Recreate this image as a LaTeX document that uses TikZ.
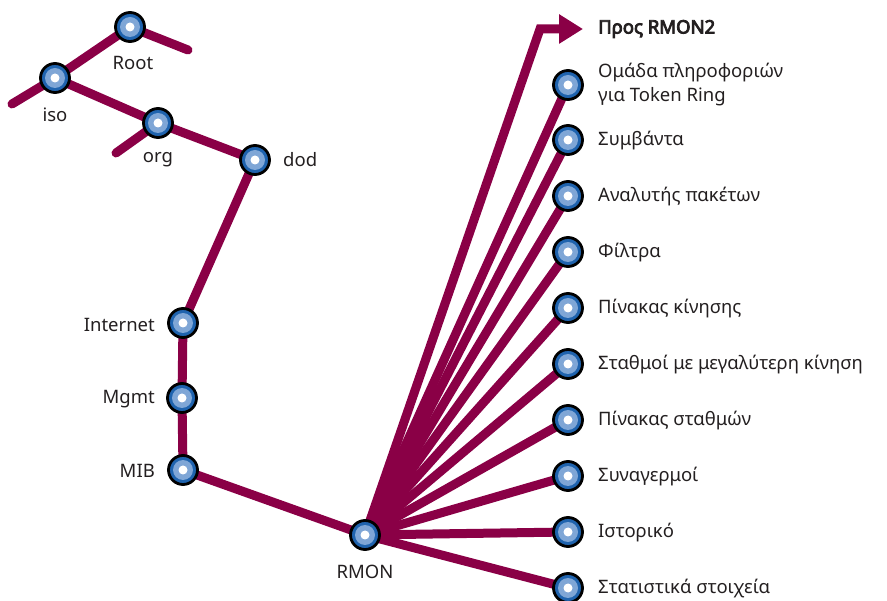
\documentclass[tikz,border=0pt]{standalone}
\usepackage{fontspec}
\setmainfont{Noto Sans}[AutoFakeBold=4.5]
\usetikzlibrary{backgrounds,arrows.meta}
\definecolor{branchc}{HTML}{8A0046}
\definecolor{ringdark}{HTML}{1F63AE}
\definecolor{ringlight}{HTML}{7FA6D6}
\definecolor{ink}{HTML}{231F20}
\tikzset{
  oid/.style={circle, draw=black, line width=2.8pt, fill=ringdark,
    minimum size=29pt, inner sep=0pt,
    path picture={
      \fill[ringlight] (path picture bounding box.center) circle (10pt);
      \fill[white] (path picture bounding box.center) circle (4.5pt);}},
  branch/.style={draw=branchc, line width=9pt, line cap=round},
  lbl/.style={font=\fontsize{18.5}{24}\selectfont, text=ink, inner sep=0pt, align=left},
}
\begin{document}
\begin{tikzpicture}[x=1pt, y=-1pt]
\useasboundingbox (0,0) rectangle (887,601);

% OID tree nodes
\node[oid] (root) at (130,27) {};
\node[oid] (iso) at (55,78) {};
\node[oid] (org) at (158,123) {};
\node[oid] (dod) at (255,160) {};
\node[oid] (internet) at (183,323) {};
\node[oid] (mgmt) at (182,398) {};
\node[oid] (mib) at (183,470) {};
\node[oid] (rmon) at (365,535) {};

% RMON groups
\node[oid] (g1) at (568,85) {};
\node[oid] (g2) at (568,140) {};
\node[oid] (g3) at (568,196) {};
\node[oid] (g4) at (568,252) {};
\node[oid] (g5) at (568,308) {};
\node[oid] (g6) at (568,364) {};
\node[oid] (g7) at (568,420) {};
\node[oid] (g8) at (568,476) {};
\node[oid] (g9) at (568,532) {};
\node[oid] (g10) at (568,588) {};

% loose branch ends
\coordinate (rootstub) at (188,50);
\coordinate (isostub) at (12,104);
\coordinate (orgstub) at (116,153);
\coordinate (bend) at (540,29);
\coordinate (tip) at (583,29);

\begin{scope}[on background layer]
  \draw[branch] (root.center) -- (rootstub);
  \draw[branch] (root.center) -- (iso.center);
  \draw[branch] (iso.center) -- (isostub);
  \draw[branch] (iso.center) -- (org.center);
  \draw[branch] (org.center) -- (orgstub);
  \draw[branch] (org.center) -- (dod.center);
  \draw[branch] (dod.center) -- (internet.center);
  \draw[branch] (internet.center) -- (mgmt.center);
  \draw[branch] (mgmt.center) -- (mib.center);
  \draw[branch] (mib.center) -- (rmon.center);
  \foreach \g in {g1,g2,g3,g4,g5,g6,g7,g8,g9,g10}
    \draw[branch] (rmon.center) -- (\g.center);
  \draw[branch, line cap=butt, line join=miter, -{Triangle[length=24pt,width=28pt]}]
    (rmon.center) -- (bend) -- (tip);
\end{scope}

% labels
\node[lbl, anchor=center] (lroot) at (133,63) {Root};
\node[lbl, anchor=center] (liso) at (55,115) {iso};
\node[lbl, anchor=center] (lorg) at (158,160) {org};
\node[lbl, anchor=west] (ldod) at (283,160) {dod};
\node[lbl, anchor=east] (linternet) at (155,325) {Internet};
\node[lbl, anchor=east] (lmgmt) at (155,399) {Mgmt};
\node[lbl, anchor=east] (lmib) at (155,471) {MIB};
\node[lbl, anchor=center] (lrmon) at (365,572) {RMON};

\node[lbl, anchor=west, font=\fontsize{18.5}{24}\selectfont\bfseries] (lrmon2) at (598,29) {Προς RMON2};
\node[lbl, anchor=west] (l1) at (598,85) {Ομάδα πληροφοριών\\για Token Ring};
\node[lbl, anchor=west] (l2) at (598,141) {Συμβάντα};
\node[lbl, anchor=west] (l3) at (598,197) {Αναλυτής πακέτων};
\node[lbl, anchor=west] (l4) at (598,253) {Φίλτρα};
\node[lbl, anchor=west] (l5) at (598,309) {Πίνακας κίνησης};
\node[lbl, anchor=west] (l6) at (598,365) {Σταθμοί με μεγαλύτερη κίνηση};
\node[lbl, anchor=west] (l7) at (598,421) {Πίνακας σταθμών};
\node[lbl, anchor=west] (l8) at (598,477) {Συναγερμοί};
\node[lbl, anchor=west] (l9) at (598,533) {Ιστορικό};
\node[lbl, anchor=west] (l10) at (598,589) {Στατιστικά στοιχεία};
\end{tikzpicture}
\end{document}
